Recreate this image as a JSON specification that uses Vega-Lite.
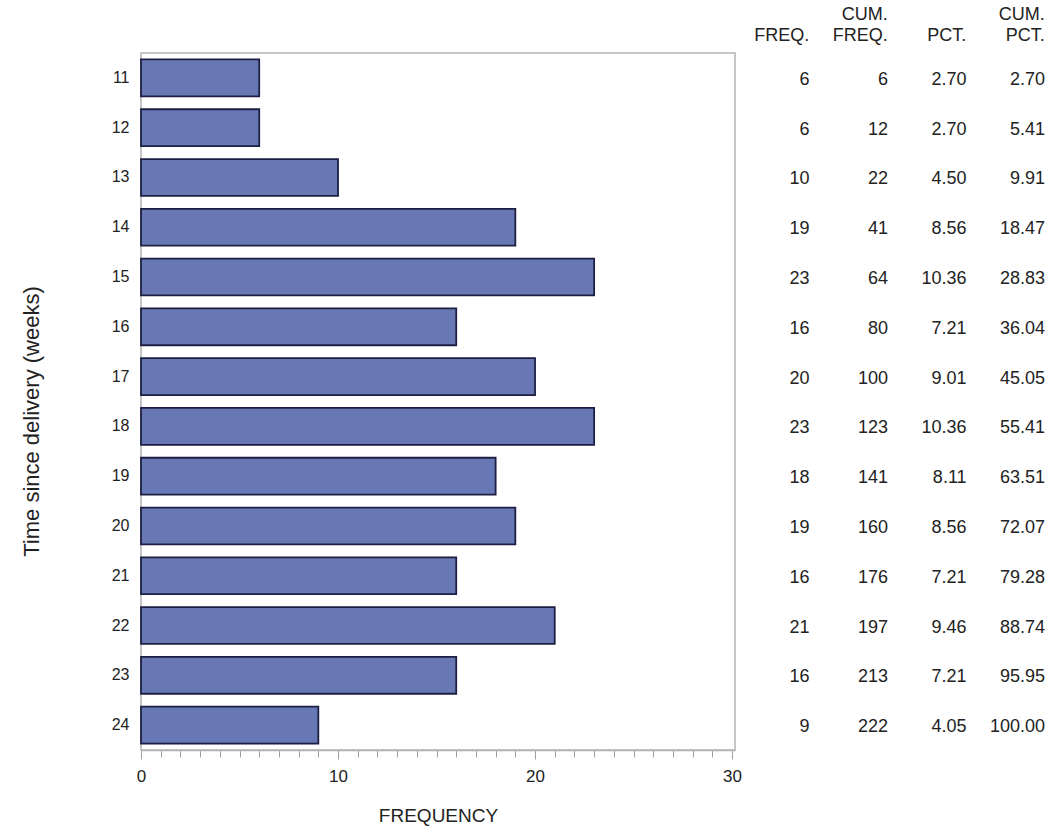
{
  "$schema": "https://vega.github.io/schema/vega-lite/v6.json",
  "padding": {"left": 19, "top": 5, "right": 0, "bottom": 2},
  "config": {
    "font": "Liberation Sans",
    "concat": {"spacing": 0},
    "axis": {"labelColor": "#222222", "titleColor": "#222222", "titleFontWeight": "normal", "grid": false}
  },
  "datasets": {
    "freq": [
      {"week": 11, "freq": 6, "cumfreq": 6, "pct": 2.70, "cumpct": 2.70},
      {"week": 12, "freq": 6, "cumfreq": 12, "pct": 2.70, "cumpct": 5.41},
      {"week": 13, "freq": 10, "cumfreq": 22, "pct": 4.50, "cumpct": 9.91},
      {"week": 14, "freq": 19, "cumfreq": 41, "pct": 8.56, "cumpct": 18.47},
      {"week": 15, "freq": 23, "cumfreq": 64, "pct": 10.36, "cumpct": 28.83},
      {"week": 16, "freq": 16, "cumfreq": 80, "pct": 7.21, "cumpct": 36.04},
      {"week": 17, "freq": 20, "cumfreq": 100, "pct": 9.01, "cumpct": 45.05},
      {"week": 18, "freq": 23, "cumfreq": 123, "pct": 10.36, "cumpct": 55.41},
      {"week": 19, "freq": 18, "cumfreq": 141, "pct": 8.11, "cumpct": 63.51},
      {"week": 20, "freq": 19, "cumfreq": 160, "pct": 8.56, "cumpct": 72.07},
      {"week": 21, "freq": 16, "cumfreq": 176, "pct": 7.21, "cumpct": 79.28},
      {"week": 22, "freq": 21, "cumfreq": 197, "pct": 9.46, "cumpct": 88.74},
      {"week": 23, "freq": 16, "cumfreq": 213, "pct": 7.21, "cumpct": 95.95},
      {"week": 24, "freq": 9, "cumfreq": 222, "pct": 4.05, "cumpct": 100.00}
    ]
  },
  "data": {"name": "freq"},
  "bounds": "flush",
  "resolve": {"scale": {"x": "independent"}},
  "hconcat": [
    {
      "width": 594,
      "height": 697,
      "view": {"stroke": "#b4b4b4", "strokeWidth": 1.5},
      "mark": {"type": "bar", "fill": "#6878b4", "stroke": "#1c1f42", "strokeWidth": 1.8},
      "encoding": {
        "y": {
          "field": "week", "type": "ordinal",
          "scale": {"paddingInner": 0.26, "paddingOuter": 0.13},
          "axis": {
            "domain": false, "ticks": false, "labelPadding": 12, "labelFontSize": 16,
            "title": "Time since delivery (weeks)", "titleFontSize": 22, "titlePadding": 68, "titleY": 368
          }
        },
        "x": {
          "field": "freq", "type": "quantitative",
          "scale": {"domain": [0, 30.15], "nice": false, "zero": true},
          "axis": {
            "values": [0,1,2,3,4,5,6,7,8,9,10,11,12,13,14,15,16,17,18,19,20,21,22,23,24,25,26,27,28,29,30],
            "labelExpr": "datum.value % 10 === 0 ? datum.label : ''",
            "labelFlush": false,
            "labelOverlap": false,
            "tickSize": {"condition": {"test": "datum.value % 10 === 0", "value": 9}, "value": 7},
            "tickColor": "#a0a0a0",
            "domainColor": "#b4b4b4",
            "domainWidth": 1.5,
            "labelFontSize": 17,
            "labelPadding": 9,
            "title": "FREQUENCY",
            "titleFontSize": 19,
            "titlePadding": 22
          }
        }
      }
    },
    {
      "width": 314,
      "height": 697,
      "view": {"stroke": null},
      "encoding": {
        "y": {
          "field": "week", "type": "ordinal",
          "scale": {"paddingInner": 0.26, "paddingOuter": 0.13},
          "axis": null
        }
      },
      "layer": [
        {
          "mark": {"type": "text", "align": "right", "baseline": "middle", "fontSize": 18, "dy": 2, "color": "#222222"},
          "encoding": {
            "x": {
              "datum": "FREQ.", "type": "nominal", "bandPosition": 0.95,
              "scale": {"type": "band", "domain": ["FREQ.", "CUM. FREQ.", "PCT.", "CUM. PCT."], "paddingInner": 0, "paddingOuter": 0},
              "axis": {
                "orient": "top", "domain": false, "ticks": false, "title": null,
                "labelAngle": 0,
                "labelOffset": 35,
                "labelExpr": "indexof(datum.value, ' ') > 0 ? split(datum.value, ' ') : ['', datum.value]",
                "labelAlign": "right", "labelBaseline": "bottom",
                "labelLineHeight": 21, "labelFontSize": 18, "labelPadding": 30
              }
            },
            "text": {"field": "freq", "type": "quantitative", "format": "d"}
          }
        },
        {
          "mark": {"type": "text", "align": "right", "baseline": "middle", "fontSize": 18, "dy": 2, "color": "#222222"},
          "encoding": {
            "x": {"datum": "CUM. FREQ.", "type": "nominal", "bandPosition": 0.95},
            "text": {"field": "cumfreq", "type": "quantitative", "format": "d"}
          }
        },
        {
          "mark": {"type": "text", "align": "right", "baseline": "middle", "fontSize": 18, "dy": 2, "color": "#222222"},
          "encoding": {
            "x": {"datum": "PCT.", "type": "nominal", "bandPosition": 0.95},
            "text": {"field": "pct", "type": "quantitative", "format": ".2f"}
          }
        },
        {
          "mark": {"type": "text", "align": "right", "baseline": "middle", "fontSize": 18, "dy": 2, "color": "#222222"},
          "encoding": {
            "x": {"datum": "CUM. PCT.", "type": "nominal", "bandPosition": 0.95},
            "text": {"field": "cumpct", "type": "quantitative", "format": ".2f"}
          }
        }
      ]
    }
  ]
}
